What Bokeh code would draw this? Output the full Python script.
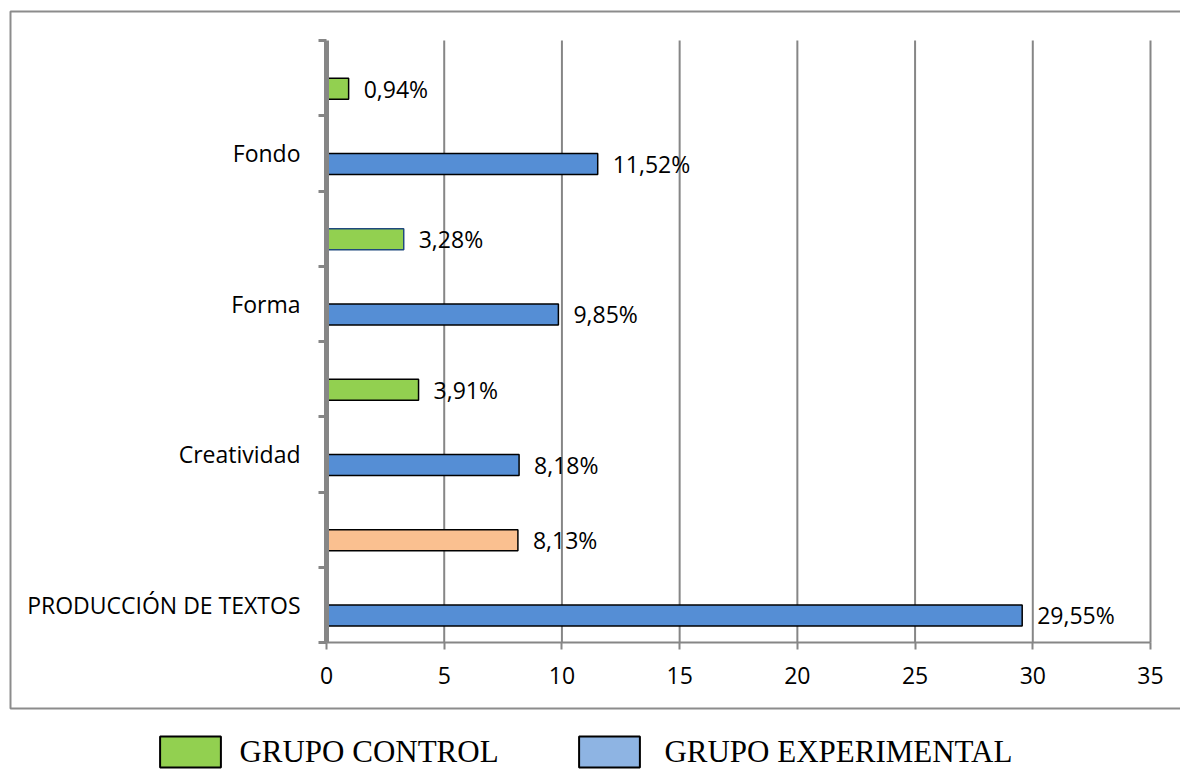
from bokeh.plotting import figure
from bokeh.models import (Range1d, FixedTicker, BoxAnnotation, Legend, LegendItem,
                          ColumnDataSource, LinearAxis)
from bokeh.core.properties import value
from bokeh.embed import file_html
from bokeh.resources import INLINE

# ---- data (bottom to top) ----
categories = ["PRODUCCIÓN DE TEXTOS", "Creatividad", "Forma", "Fondo"]
experimental = [29.55, 8.18, 9.85, 11.52]
control = [8.13, 3.91, 3.28, 0.94]
x_ticks = [0, 5, 10, 15, 20, 25, 30, 35]
legend_labels = ["GRUPO CONTROL", "GRUPO EXPERIMENTAL"]

# ---- styles ----
exp_color = "#558ED5"
ctrl_colors = ["#FAC090", "#92D050", "#92D050", "#92D050"]
ctrl_lines = ["black", "black", "#1F497D", "black"]
legend_fill = ["#92D050", "#8EB4E3"]
grey = "#868686"
FONT = "Open Sans"
FS = "23px"

W, H = 1180, 771
# pixel layout of the value area
PX_X0, PX_X35 = 326, 1150
PX_Y0, PX_Y8 = 642, 40
X_MAX = x_ticks[-1]
N_SLOTS = 2 * len(categories)
sx = (PX_X35 - PX_X0) / X_MAX
sy = (PX_Y0 - PX_Y8) / N_SLOTS

def px2x(px):
    return (px - PX_X0) / sx

def px2y(py):
    return (PX_Y0 - py) / sy

OFF = 0.14
BAR_H = 0.28

def fmt(v):
    return f"{v:.2f}".replace(".", ",") + "%"

exp_y = [2 * i + 0.5 - OFF for i in range(len(categories))]
ctrl_y = [2 * i + 1.5 - OFF for i in range(len(categories))]

p = figure(width=W, height=H, output_backend="svg", toolbar_location=None,
           x_range=Range1d(px2x(0), px2x(W)), y_range=Range1d(px2y(H), px2y(0)),
           x_axis_type=None, y_axis_type=None, min_border=0)
p.min_border_left = p.min_border_right = p.min_border_top = p.min_border_bottom = 0
p.outline_line_color = None
p.background_fill_color = "white"
p.border_fill_color = "white"

# outer border of chart area (right edge lies outside the picture)
p.add_layout(BoxAnnotation(left=px2x(10), right=px2x(W + 20), top=px2y(11), bottom=px2y(708),
                           fill_color=None, fill_alpha=0, line_color="#8c8c8c",
                           line_width=2, line_alpha=1, level="underlay"))

# vertical grid lines over the value area
gx = x_ticks[1:]
p.segment(x0=gx, y0=[0] * len(gx), x1=gx, y1=[N_SLOTS] * len(gx),
          line_color=grey, line_width=2, level="underlay")

# bars
exp_src = ColumnDataSource(dict(y=exp_y, v=experimental, lab=[fmt(v) for v in experimental]))
ctrl_src = ColumnDataSource(dict(y=ctrl_y, v=control, lab=[fmt(v) for v in control],
                                 fc=ctrl_colors, lc=ctrl_lines))
p.hbar(y="y", left=0, right="v", height=BAR_H, source=exp_src,
       fill_color=exp_color, line_color="black", line_width=1.5)
p.hbar(y="y", left=0, right="v", height=BAR_H, source=ctrl_src,
       fill_color="fc", line_color="lc", line_width=1.5)

for src in (exp_src, ctrl_src):
    p.text(x="v", y="y", text="lab", source=src, x_offset=15,
           text_baseline="middle", text_align="left",
           text_font=value(FONT), text_font_size=FS, text_color="black")

# x axis at y=0
xa = LinearAxis(fixed_location=0, bounds=(0, X_MAX), ticker=FixedTicker(ticks=x_ticks))
xa.axis_line_color = grey
xa.axis_line_width = 2
xa.major_tick_line_color = grey
xa.major_tick_line_width = 2
xa.major_tick_in = 0
xa.major_tick_out = 7
xa.minor_tick_line_color = None
xa.major_label_text_font = FONT
xa.major_label_text_font_size = FS
xa.major_label_text_color = "black"
xa.major_label_standoff = 17
p.add_layout(xa, "below")

# y axis at x=0
centers = [2 * i + 0.5 for i in range(len(categories))]
ya = LinearAxis(fixed_location=0, bounds=(0, N_SLOTS),
                ticker=FixedTicker(ticks=centers, minor_ticks=list(range(0, N_SLOTS + 1))))
ya.major_label_overrides = {c: lab for c, lab in zip(centers, categories)}
ya.axis_line_color = grey
ya.axis_line_width = 5
ya.major_tick_line_color = None
ya.major_tick_in = 0
ya.major_tick_out = 0
ya.minor_tick_line_color = grey
ya.minor_tick_line_width = 3
ya.minor_tick_in = 0
ya.minor_tick_out = 8
ya.major_label_text_font = FONT
ya.major_label_text_font_size = FS
ya.major_label_text_color = "black"
ya.major_label_standoff = 18
p.add_layout(ya, "left")

# legend swatches: hidden copies of the bar renderers with legend colours
leg_r = []
for fc, src in zip(legend_fill, (ctrl_src, exp_src)):
    r = p.hbar(y="y", left=0, right="v", height=BAR_H, source=src, fill_color=fc,
               line_color="black", line_width=2)
    r.visible = False
    leg_r.append(r)

GW, GH, LH = 76, 39, 39
leg_left = [160 - 7.6, 579 - 7.6]
leg_top = 732
for lab, r, lx, st in zip(legend_labels, leg_r, leg_left, [11, 17]):
    lg = Legend(items=[LegendItem(label=lab, renderers=[r])],
                location=(lx, H - (leg_top + LH)),
                orientation="horizontal", glyph_width=GW, glyph_height=GH,
                label_height=LH, label_standoff=st, padding=0, margin=0,
                border_line_color=None, background_fill_alpha=0,
                inactive_fill_alpha=0, click_policy="none",
                label_text_font="Liberation Serif", label_text_font_size="31px",
                label_text_color="black")
    p.add_layout(lg, "center")

open("out.html", "w").write(file_html(p, INLINE))
